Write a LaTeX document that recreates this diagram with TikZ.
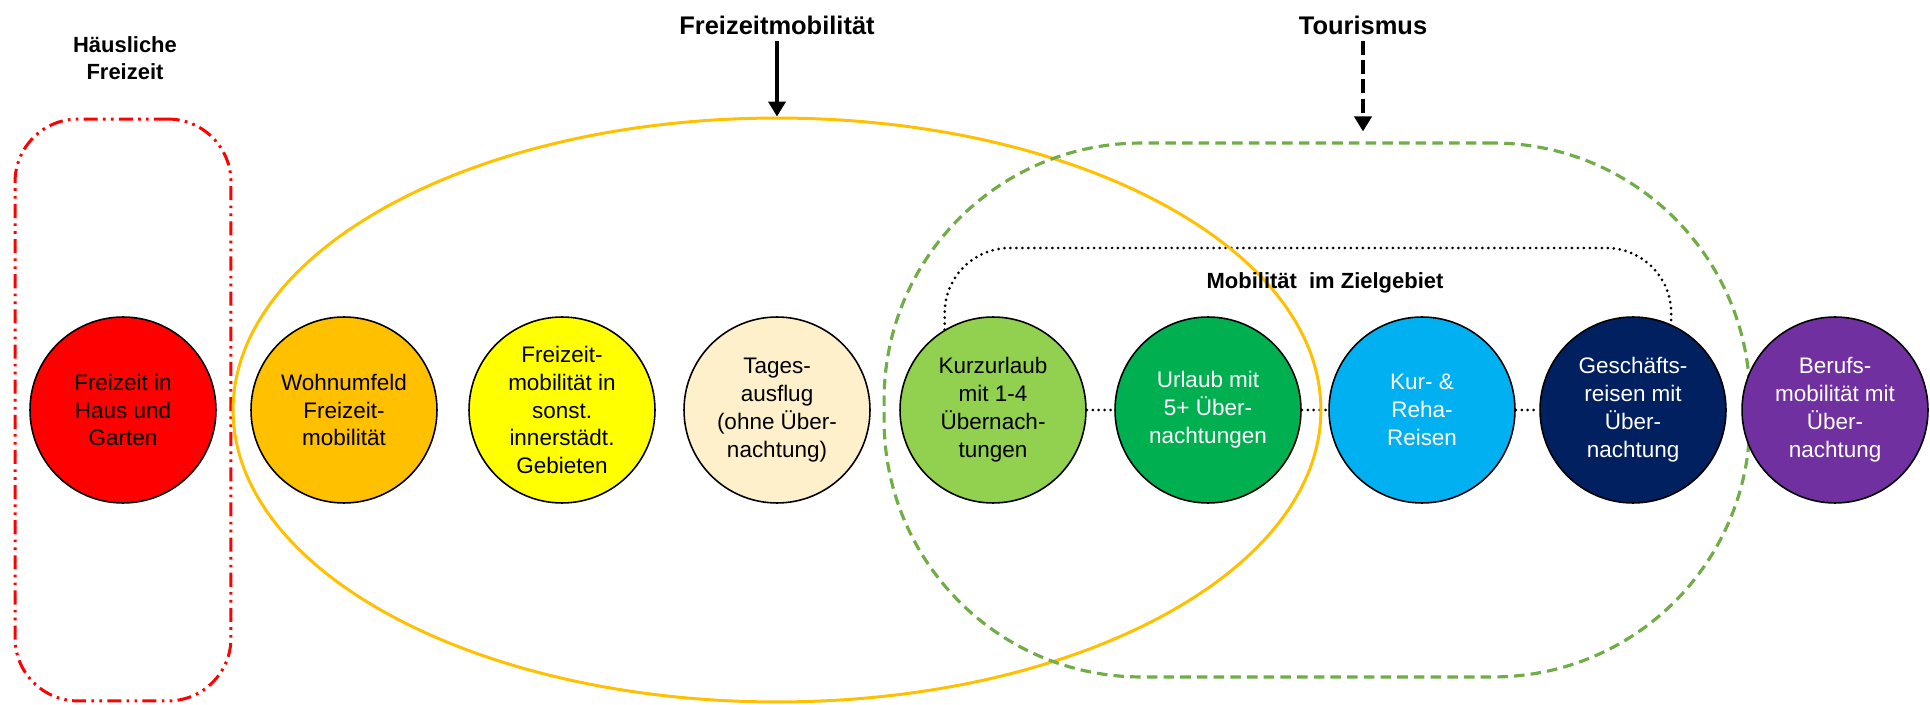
\documentclass[tikz,border=0pt]{standalone}
\usepackage{fontspec}
\setmainfont{Liberation Sans}
\usetikzlibrary{arrows.meta, positioning, backgrounds, shapes.geometric}

\definecolor{hausrot}{HTML}{FF0000}
\definecolor{freizeitgelb}{HTML}{FFC000}
\definecolor{tourgruen}{HTML}{70AD47}
\definecolor{kGarten}{HTML}{FF0000}
\definecolor{kWohn}{HTML}{FFC000}
\definecolor{kStadt}{HTML}{FFFF00}
\definecolor{kTag}{HTML}{FFF0CC}
\definecolor{kKurz}{HTML}{92D050}
\definecolor{kUrlaub}{HTML}{00B050}
\definecolor{kKur}{HTML}{00B0F0}
\definecolor{kGeschaeft}{HTML}{002060}
\definecolor{kBeruf}{HTML}{7030A0}

\begin{document}
\begin{tikzpicture}[x=0.02cm, y=-0.02cm]
        \tikzset{
          kreis/.style={
            draw, circle, line width=0.9pt, inner sep=0pt,
            minimum size=3.72cm, align=center,
            font=\fontsize{12.8}{15.9}\selectfont, text=black,
          },
          kreis weiss/.style={kreis, text=white},
          titel/.style={font=\fontsize{14.5}{17}\selectfont\bfseries, align=center},
          untertitel/.style={font=\fontsize{12.5}{15.5}\selectfont\bfseries, align=center},
          pfeil/.style={line width=2.4pt, -{Triangle[length=0.3cm, width=0.34cm]}},
          punkte/.style={line width=1.7pt, line cap=round, dash pattern=on 0pt off 3.4pt},
          }
        \useasboundingbox (0,0) rectangle (1930,705);

        % Rahmen
        \node[draw=hausrot, line width=1.7pt, rounded corners=1.26cm,
          dash pattern=on 8pt off 3pt on 1.5pt off 3pt on 1.5pt off 3pt,
          minimum width=4.32cm, minimum height=11.64cm] (hausrahmen) at (123,410) {};
        \node[draw=freizeitgelb, line width=1.7pt, ellipse, inner sep=0pt,
          minimum width=21.76cm, minimum height=11.68cm] (fzm) at (777,410) {};
        \node[draw=tourgruen, line width=1.8pt, rounded corners=5.14cm,
          dash pattern=on 6pt off 3.5pt,
          minimum width=17.32cm, minimum height=10.68cm] (tour) at (1317,410) {};

        \node[untertitel] (haeuslich) at (125,58) {Häusliche\\Freizeit};
        \node[titel] (fzmtitel) at (777,25) {Freizeitmobilität};
        \node[titel] (tourtitel) at (1363,25) {Tourismus};
        \node[untertitel] (zieltext) at (1325,283) {Mobilität\ \ im Zielgebiet};
        \coordinate (zieloben) at (1300,248);

        % Kreise
        \node[kreis, fill=kGarten] (garten) at (123,410) {Freizeit in\\Haus und\\Garten};
        \node[kreis, fill=kWohn] (wohnumfeld) at (344,410) {Wohnumfeld\\Freizeit-\\mobilität};
        \node[kreis, fill=kStadt] (innerstadt) at (562,410) {Freizeit-\\mobilität in\\sonst.\\innerstädt.\\Gebieten};
        \node[kreis, fill=kTag] (tagesausflug) at (777,410) {Tages-\\ausflug\\(ohne Über-\\nachtung)};
        \node[kreis, fill=kKurz] (kurzurlaub) at (993,410) {Kurzurlaub\\mit 1-4\\Übernach-\\tungen};
        \node[kreis weiss, fill=kUrlaub] (urlaub) at (1208,410) {Urlaub mit\\5+ Über-\\nachtungen};
        \node[kreis weiss, fill=kKur] (kur) at (1422,410) {Kur- \&\\Reha-\\Reisen};
        \node[kreis weiss, fill=kGeschaeft] (geschaeft) at (1633,410) {Geschäfts-\\reisen mit\\Über-\\nachtung};
        \node[kreis weiss, fill=kBeruf] (beruf) at (1835,410) {Berufs-\\mobilität mit\\Über-\\nachtung};

        \begin{scope}[on background layer]
            \draw[punkte] (kurzurlaub) -- (urlaub);
            \draw[punkte] (urlaub) -- (kur);
            \draw[punkte] (kur) -- (geschaeft);
            \draw[punkte, rounded corners=1.3cm] (kurzurlaub.121) |- (zieloben) -| (geschaeft.66);
        \end{scope}
        \draw[pfeil] (fzmtitel) -- (fzm.north);
        \draw[pfeil, dash pattern=on 8pt off 3pt, shorten >=0.2cm] (tourtitel) -- (tourtitel |- tour.north);
      \end{tikzpicture}
\end{document}
